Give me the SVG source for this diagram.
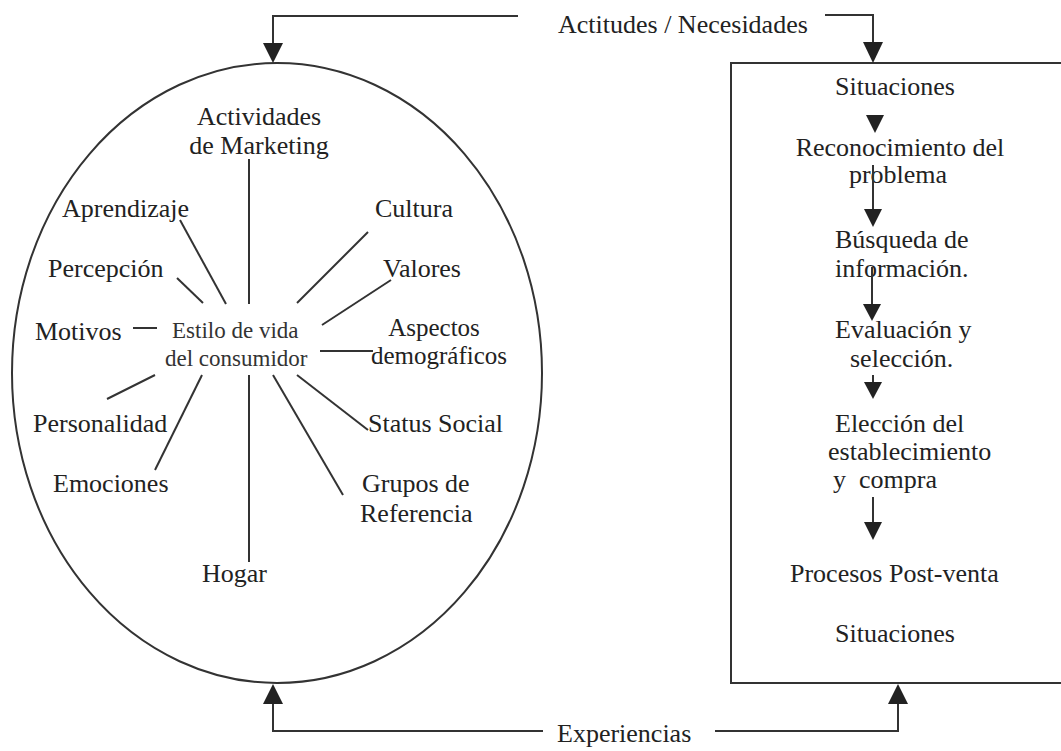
<svg xmlns="http://www.w3.org/2000/svg" width="1061" height="751" viewBox="0 0 1061 751">
<style>
text { font-family: "Liberation Serif", "Times New Roman", serif; font-size: 26px; fill: #222; }
.c { font-size: 23px; fill: #333; }
.s { font-size: 25px; }
.m { text-anchor: middle; }
.ln { stroke: #333; stroke-width: 2; fill: none; }
.shape { stroke: #333; stroke-width: 2; fill: none; }
.ah { fill: #222; }
</style>
<rect width="1061" height="751" fill="#fff"/>
<g id="ellipse-node">
  <ellipse class="shape" cx="277" cy="373" rx="265" ry="310"/>
</g>
<g id="process-box">
  <rect class="shape" x="731" y="63" width="345" height="620"/>
</g>
<g id="center">
  <text class="c" x="172" y="338">Estilo de vida</text>
  <text class="c" x="165" y="366">del consumidor</text>
</g>
<g id="n-marketing"><text class="m" x="259" y="125">Actividades</text><text class="m" x="259" y="154">de Marketing</text></g>
<g id="n-aprendizaje"><text x="62" y="217">Aprendizaje</text></g>
<g id="n-cultura"><text x="375" y="217">Cultura</text></g>
<g id="n-percepcion"><text x="48" y="277">Percepción</text></g>
<g id="n-valores"><text x="383" y="277">Valores</text></g>
<g id="n-motivos"><text x="35" y="340">Motivos</text></g>
<g id="n-aspectos"><text class="m s" x="434" y="336">Aspectos</text><text class="s" x="371" y="364">demográficos</text></g>
<g id="n-personalidad"><text x="33" y="432">Personalidad</text></g>
<g id="n-status"><text x="368" y="432">Status Social</text></g>
<g id="n-emociones"><text x="53" y="492">Emociones</text></g>
<g id="n-grupos"><text x="362" y="492">Grupos de</text><text x="360" y="522">Referencia</text></g>
<g id="n-hogar"><text x="202" y="582">Hogar</text></g>
<g id="label-actitudes"><text x="558" y="33">Actitudes / Necesidades</text></g>
<g id="label-experiencias"><text x="557" y="742">Experiencias</text></g>
<g id="s-situaciones1"><text class="m" x="895" y="95">Situaciones</text></g>
<g id="s-reconocimiento"><text class="m" x="900" y="156">Reconocimiento del</text><text class="m" x="898" y="183">problema</text></g>
<g id="s-busqueda"><text x="835" y="248">Búsqueda de</text><text x="835" y="277">información.</text></g>
<g id="s-evaluacion"><text x="835" y="338">Evaluación y</text><text x="850" y="367">selección.</text></g>
<g id="s-eleccion"><text x="835" y="432">Elección del</text><text x="828" y="460">establecimiento</text><text x="833" y="488" xml:space="preserve">y  compra</text></g>
<g id="s-postventa"><text x="790" y="582">Procesos Post-venta</text></g>
<g id="s-situaciones2"><text x="835" y="642">Situaciones</text></g>
<g id="connectors">
  <line class="ln" x1="249" y1="159" x2="249" y2="304"/>
  <line class="ln" x1="180" y1="220" x2="226" y2="304"/>
  <line class="ln" x1="177" y1="278" x2="203" y2="303"/>
  <line class="ln" x1="368" y1="232" x2="297" y2="303"/>
  <line class="ln" x1="391" y1="280" x2="322" y2="325"/>
  <line class="ln" x1="133" y1="328" x2="157" y2="328"/>
  <line class="ln" x1="320" y1="351" x2="373" y2="351"/>
  <line class="ln" x1="107" y1="399" x2="155" y2="375"/>
  <line class="ln" x1="155" y1="470" x2="202" y2="375"/>
  <line class="ln" x1="249" y1="375" x2="249" y2="562"/>
  <line class="ln" x1="273" y1="375" x2="343" y2="495"/>
  <line class="ln" x1="297" y1="375" x2="368" y2="430"/>
  <polyline class="ln" points="518,16 273,16 273,45"/>
  <polygon class="ah" points="263,43 283,43 273,63"/>
  <polyline class="ln" points="825,15 873,15 873,44"/>
  <polygon class="ah" points="863,42 883,42 873,63"/>
  <polyline class="ln" points="543,731 273,731 273,702"/>
  <polygon class="ah" points="263,704 283,704 273,684"/>
  <polyline class="ln" points="715,731 898,731 898,702"/>
  <polygon class="ah" points="888,704 908,704 898,684"/>
  <polygon class="ah" points="866,115 884,115 875,133"/>
  <line class="ln" x1="873" y1="165" x2="873" y2="212"/>
  <polygon class="ah" points="864,209 882,209 873,227"/>
  <line class="ln" x1="872" y1="267" x2="872" y2="306"/>
  <polygon class="ah" points="863,304 881,304 872,321"/>
  <line class="ln" x1="873" y1="375" x2="873" y2="385"/>
  <polygon class="ah" points="864,382 882,382 873,399"/>
  <line class="ln" x1="873" y1="497" x2="873" y2="524"/>
  <polygon class="ah" points="864,522 882,522 873,540"/>
</g>
</svg>
